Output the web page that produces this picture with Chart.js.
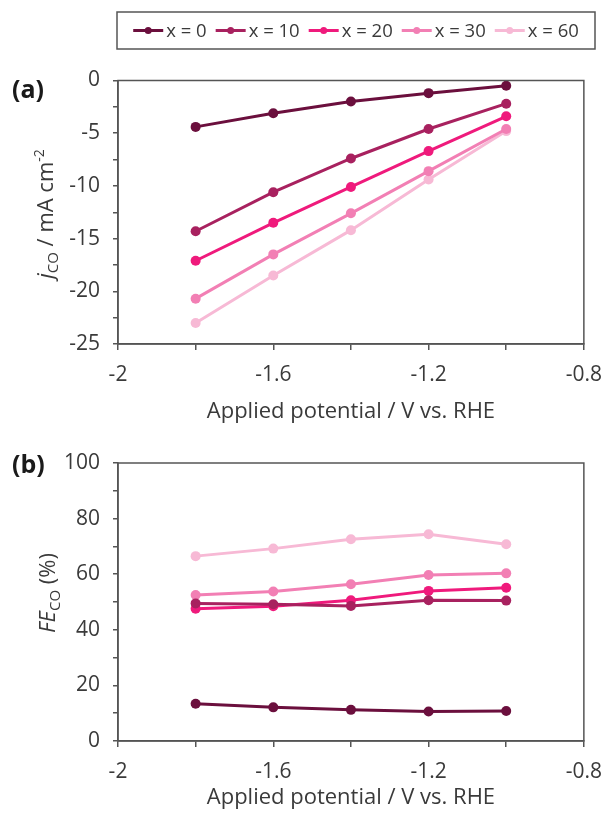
<!DOCTYPE html>
<html>
<head>
<meta charset="utf-8">
<script src="https://cdn.jsdelivr.net/npm/chart.js@4.4.0/dist/chart.umd.min.js"></script>
<style>
  html, body { margin: 0; padding: 0; background: #ffffff; }
  body { width: 614px; height: 816px; position: relative; overflow: hidden; }
  canvas { position: absolute; left: 0; }
  #cA { top: 0; }
  #cB { top: 430px; }
</style>
</head>
<body>
<canvas id="cA" width="614" height="430"></canvas>
<canvas id="cB" width="614" height="386"></canvas>
<script>
// ---------- data ----------
const potentials = [-1.8, -1.6, -1.4, -1.2, -1.0];
const seriesNames = ['x = 0', 'x = 10', 'x = 20', 'x = 30', 'x = 60'];
const seriesColors = ['#6b0f3d', '#a8215f', '#ef1a7c', '#f27fb4', '#f7b9d5'];

const jCO_x0  = [-4.4, -3.1, -2.0, -1.2, -0.5];
const jCO_x10 = [-14.3, -10.6, -7.4, -4.6, -2.2];
const jCO_x20 = [-17.1, -13.5, -10.1, -6.7, -3.4];
const jCO_x30 = [-20.7, -16.5, -12.6, -8.6, -4.6];
const jCO_x60 = [-23.0, -18.5, -14.2, -9.4, -4.8];

const fe_x0  = [13.4, 12.1, 11.2, 10.6, 10.8];
const fe_x10 = [49.5, 49.2, 48.6, 50.6, 50.5];
const fe_x20 = [47.6, 48.5, 50.6, 54.0, 55.1];
const fe_x30 = [52.5, 53.8, 56.4, 59.7, 60.3];
const fe_x60 = [66.5, 69.2, 72.6, 74.4, 70.8];

const xTickLabels = ['-2', '-1.6', '-1.2', '-0.8'];
const jTickLabels = ['0', '-5', '-10', '-15', '-20', '-25'];
const feTickLabels = ['0', '20', '40', '60', '80', '100'];

// ---------- style ----------
const FONT = '"Open Sans", "Liberation Sans", sans-serif';
const AXIS = '#555555';
const TEXT = '#3a3a3a';

function makeDatasets(arrs) {
  return arrs.map((a, i) => ({
    label: seriesNames[i],
    data: potentials.map((p, k) => ({ x: p, y: a[k] })),
    borderColor: seriesColors[i],
    backgroundColor: seriesColors[i],
    pointBackgroundColor: seriesColors[i],
    pointBorderColor: seriesColors[i],
    borderWidth: 3,
    pointRadius: 5,
    pointBorderWidth: 0,
    tension: 0,
    order: i
  }));
}

function fmt(v) { return String(Math.round(v * 10) / 10); }

const xScale = (extraHeight) => ({
  type: 'linear',
  min: -2, max: -0.8,
  ticks: {
    stepSize: 0.2,
    autoSkip: false,
    maxRotation: 0,
    padding: 12,
    color: TEXT,
    font: { family: FONT, size: 21 },
    callback: (v) => {
      const s = fmt(v);
      return xTickLabels.includes(s) ? s : '';
    }
  },
  grid: { drawOnChartArea: false, color: AXIS, lineWidth: 1.5, tickLength: 6 },
  border: { color: AXIS, width: 1.5 },
  title: {
    display: true,
    text: 'Applied potential / V vs. RHE',
    color: TEXT,
    font: { family: FONT, size: 22 },
    padding: { top: 0, bottom: 5 }
  },
  afterFit: (s) => { s.height = extraHeight; }
});

const yScale = (min, max, step, labels) => ({
  type: 'linear',
  min: min, max: max,
  ticks: {
    stepSize: step,
    autoSkip: false,
    padding: 13,
    color: TEXT,
    font: { family: FONT, size: 21 },
    callback: (v) => {
      const s = fmt(v);
      return labels.includes(s) ? s : '';
    }
  },
  grid: { drawOnChartArea: false, color: AXIS, lineWidth: 1.5, tickLength: 5 },
  border: { color: AXIS, width: 1.5 },
  afterFit: (s) => { s.width = 118; }
});

// plugin: frame around plot area + panel letter + rich y title
function decoPlugin(letter, letterY, titleParts, titleX, titleY) {
  return {
    id: 'deco' + letter,
    afterDraw(chart) {
      const ctx = chart.ctx;
      const a = chart.chartArea;
      ctx.save();
      ctx.strokeStyle = AXIS;
      ctx.lineWidth = 1.5;
      ctx.strokeRect(a.left, a.top, a.right - a.left, a.bottom - a.top);
      // panel letter
      ctx.fillStyle = '#1a1a1a';
      ctx.font = 'bold 25px ' + FONT;
      ctx.textAlign = 'left';
      ctx.textBaseline = 'middle';
      ctx.fillText(letter, 12, letterY);
      // rich rotated y title
      ctx.translate(titleX, titleY);
      ctx.rotate(-Math.PI / 2);
      ctx.fillStyle = TEXT;
      ctx.textBaseline = 'alphabetic';
      let total = 0;
      titleParts.forEach(p => { ctx.font = p.font; total += ctx.measureText(p.t).width; });
      let x = -total / 2;
      titleParts.forEach(p => {
        ctx.font = p.font;
        ctx.fillText(p.t, x, 8 + (p.dy || 0));
        x += ctx.measureText(p.t).width;
      });
      ctx.restore();
    }
  };
}

// plugin: custom boxed legend with line+dot symbols
const legendPlugin = {
  id: 'boxLegend',
  afterDraw(chart) {
    const ctx = chart.ctx;
    ctx.save();
    const boxL = 117, boxT = 12, boxR = 595, boxB = 49;
    ctx.strokeStyle = AXIS;
    ctx.lineWidth = 1.5;
    ctx.strokeRect(boxL, boxT, boxR - boxL, boxB - boxT);
    ctx.font = '18.5px ' + FONT;
    const symW = 30, gapSym = 3, gapItem = 9;
    const widths = seriesNames.map(n => symW + gapSym + ctx.measureText(n).width);
    const total = widths.reduce((s, w) => s + w, 0) + gapItem * (seriesNames.length - 1);
    let x = (boxL + boxR) / 2 - total / 2;
    const cy = (boxT + boxB) / 2;
    seriesNames.forEach((n, i) => {
      ctx.strokeStyle = seriesColors[i];
      ctx.fillStyle = seriesColors[i];
      ctx.lineWidth = 3;
      ctx.beginPath();
      ctx.moveTo(x, cy); ctx.lineTo(x + symW, cy); ctx.stroke();
      ctx.beginPath();
      ctx.arc(x + symW / 2, cy, 3.5, 0, Math.PI * 2); ctx.fill();
      ctx.fillStyle = TEXT;
      ctx.textAlign = 'left';
      ctx.textBaseline = 'middle';
      ctx.fillText(n, x + symW + gapSym, cy + 1);
      x += widths[i] + gapItem;
    });
    ctx.restore();
  }
};

const common = {
  responsive: false,
  animation: false,
  devicePixelRatio: 1,
  plugins: { legend: { display: false }, tooltip: { enabled: false } }
};

new Chart(document.getElementById('cA'), {
  type: 'line',
  data: { datasets: makeDatasets([jCO_x0, jCO_x10, jCO_x20, jCO_x30, jCO_x60]) },
  options: Object.assign({}, common, {
    layout: { padding: { top: 80.5, left: 0, right: 21, bottom: 0 } },
    scales: {
      x: xScale(430 - 344),
      y: yScale(-25, 0, 2.5, jTickLabels)
    }
  }),
  plugins: [legendPlugin, decoPlugin('(a)', 91, [
    { t: 'j', font: 'italic 22px ' + FONT },
    { t: 'CO', font: '15px ' + FONT, dy: 5 },
    { t: ' / mA cm', font: '22px ' + FONT },
    { t: '-2', font: '14px ' + FONT, dy: -9 }
  ], 45, 214)]
});

new Chart(document.getElementById('cB'), {
  type: 'line',
  data: { datasets: makeDatasets([fe_x0, fe_x10, fe_x20, fe_x30, fe_x60]) },
  options: Object.assign({}, common, {
    layout: { padding: { top: 33, left: 0, right: 20, bottom: 0 } },
    scales: {
      x: xScale(386 - 311),
      y: yScale(0, 100, 10, feTickLabels)
    }
  }),
  plugins: [decoPlugin('(b)', 36, [
    { t: 'FE', font: 'italic 22px ' + FONT },
    { t: 'CO', font: '15px ' + FONT, dy: 5 },
    { t: ' (%)', font: '22px ' + FONT }
  ], 47, 163)]
});
</script>
</body>
</html>
